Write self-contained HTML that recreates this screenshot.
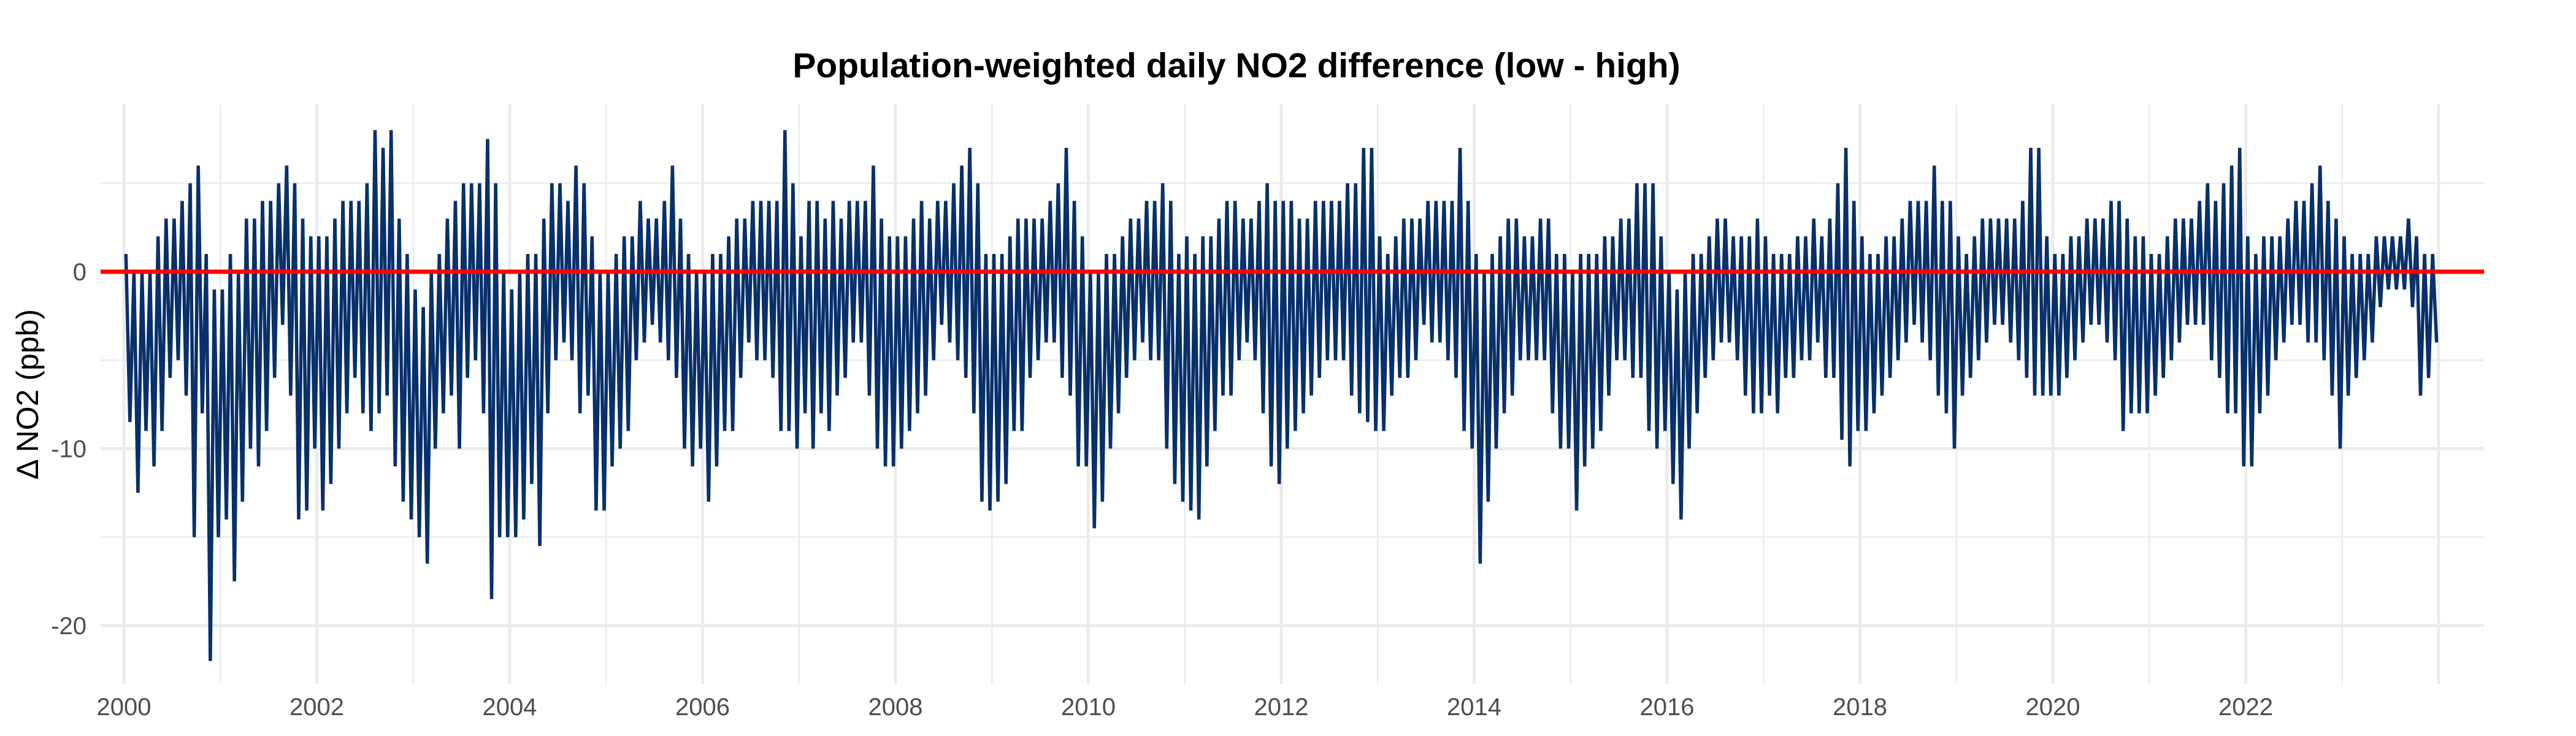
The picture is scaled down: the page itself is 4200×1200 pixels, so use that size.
<!DOCTYPE html>
<html><head><meta charset="utf-8"><style>
html,body{margin:0;padding:0;background:#fff;}
svg{display:block;font-family:"Liberation Sans",Arial,sans-serif;}
</style></head><body>
<svg id="chart" width="4200" height="1200" viewBox="0 0 4200 1200" xmlns="http://www.w3.org/2000/svg">
<rect width="4200" height="1200" fill="#fff"/>
<g id="grid"></g>
<g id="series"></g>
<g id="axes"></g>
<text x="2016" y="126" text-anchor="middle" font-size="57" font-weight="bold" fill="#000">Population-weighted daily NO2 difference (low - high)</text>
<text transform="translate(62,643) rotate(-90)" text-anchor="middle" font-size="50" fill="#000">Δ NO2 (ppb)</text>
</svg>
<script>
const startYear = 2000;
const xTickLabels = ["2000","2002","2004","2006","2008","2010","2012","2014","2016","2018","2020","2022"];
const yTickValues = [0, -10, -20];
const monthlyHigh = [
1,0,0,0,2,3,3,4,5,6,1,-1,
-1,1,0,3,3,4,4,5,6,5,3,2,
2,2,3,4,4,4,5,8,7,8,3,1,
-1,-2,0,1,3,4,5,5,5,7.5,5,0,
-1,0,1,1,3,5,5,4,6,5,2,0,
0,1,2,2,4,3,3,4,6,3,1,0,
0,1,1,2,3,3,4,4,4,4,8,5,
2,4,4,3,4,3,4,4,4,6,3,2,
2,2,3,4,3,4,4,5,6,7,5,1,
1,1,2,3,3,3,3,4,5,7,4,2,
0,0,1,1,2,3,3,4,4,5,4,1,
2,1,2,2,3,4,4,3,3,4,5,4,
4,4,3,3,4,4,4,4,5,5,7,7,
2,1,2,3,3,3,4,4,4,4,7,4,
1,0,1,2,3,3,2,2,3,3,1,1,
0,1,1,1,2,2,3,3,5,5,5,2,
0,-1,0,1,1,2,3,3,2,2,2,3,
2,1,1,1,2,2,3,2,3,5,7,4,
2,1,1,2,2,3,4,4,4,6,4,4,
2,1,2,3,3,3,3,3,4,7,7,2,
1,1,2,2,3,3,3,4,4,3,2,2,
1,1,2,3,3,3,4,5,4,5,6,7,
2,1,2,2,2,3,4,4,5,6,4,3,
2,1,1,1,2,2,2,2,3,2,1,1
];
const monthlyLow = [
-8.5,-12.5,-9,-11,-9,-6,-5,-7,-15,-8,-22,-15,
-14,-17.5,-13,-10,-11,-9,-6,-3,-7,-14,-13.5,-10,
-13.5,-12,-10,-8,-6,-8,-9,-8,-7,-11,-13,-14,
-15,-16.5,-10,-8,-7,-10,-6,-5,-8,-18.5,-15,-15,
-15,-14,-12,-15.5,-8,-5,-4,-5,-8,-7,-13.5,-13.5,
-11,-10,-9,-5,-4,-3,-4,-5,-6,-10,-11,-10,
-13,-11,-9,-9,-6,-4,-5,-5,-6,-9,-9,-10,
-8,-10,-8,-9,-7,-6,-4,-4,-7,-10,-11,-11,
-10,-9,-8,-7,-5,-3,-4,-5,-6,-8,-13,-13.5,
-13,-12,-9,-9,-6,-5,-4,-4,-6,-7,-11,-11,
-14.5,-13,-10,-8,-6,-5,-4,-5,-5,-10,-12,-13,
-13.5,-14,-11,-9,-7,-7,-5,-4,-5,-8,-11,-12,
-10,-9,-8,-7,-6,-5,-5,-5,-7,-8,-8.5,-9,
-9,-7,-6,-6,-5,-3,-4,-4,-5,-6,-9,-10,
-16.5,-13,-10,-8,-7,-5,-5,-5,-5,-8,-10,-10,
-13.5,-11,-10,-9,-7,-5,-5,-6,-6,-9,-10,-9,
-12,-14,-10,-8,-6,-5,-4,-4,-5,-7,-8,-8,
-7,-8,-6,-6,-5,-5,-4,-6,-6,-9.5,-11,-9,
-9,-8,-7,-6,-5,-4,-3,-4,-5,-7,-8,-10,
-7,-6,-5,-4,-3,-3,-4,-5,-6,-7,-7,-7,
-7,-6,-5,-4,-3,-3,-4,-5,-9,-8,-8,-8,
-7,-6,-5,-4,-3,-3,-3,-5,-6,-8,-8,-11,
-11,-8,-7,-5,-4,-3,-3,-4,-4,-5,-7,-10,
-7,-6,-5,-4,-2,-1,-1,-1,-2,-7,-6,-4
];

const NS = "http://www.w3.org/2000/svg";
const panel = {left:164, right:4050, top:170, bottom:1115};
function xScale(t){ return 202 + (t - startYear) * 157.25; }
function yScale(v){ return 443 - v * 28.85; }

const grid = document.getElementById('grid');
const axes = document.getElementById('axes');
const series = document.getElementById('series');

function line(parent, x1,y1,x2,y2, stroke, w){
  const l = document.createElementNS(NS,'line');
  l.setAttribute('x1',x1); l.setAttribute('y1',y1);
  l.setAttribute('x2',x2); l.setAttribute('y2',y2);
  l.setAttribute('stroke',stroke); l.setAttribute('stroke-width',w);
  parent.appendChild(l);
  return l;
}
[5,-5,-15].forEach(v=>{
  const l = line(grid, panel.left, yScale(v), panel.right, yScale(v), '#ebebeb', 2.5);
  
  
});
yTickValues.forEach(v=>{
  const l = line(grid, panel.left, yScale(v), panel.right, yScale(v), '#ebebeb', 5);
  
  
  const t = document.createElementNS(NS,'text');
  t.setAttribute('x', 141); t.setAttribute('y', yScale(v)+14);
  t.setAttribute('text-anchor','end'); t.setAttribute('font-size','40'); t.setAttribute('fill','#4d4d4d');
  t.textContent = String(v);
  
  
  axes.appendChild(t);
});
for (let y = startYear; y <= 2024; y++){
  const major = (y % 2 === 0);
  const l = line(grid, xScale(y), panel.top, xScale(y), panel.bottom, '#ebebeb', major ? 5 : 2.5);
  
  
}
xTickLabels.forEach(lbl=>{
  const t = document.createElementNS(NS,'text');
  t.setAttribute('x', xScale(+lbl)); t.setAttribute('y', 1166);
  t.setAttribute('text-anchor','middle'); t.setAttribute('font-size','40'); t.setAttribute('fill','#4d4d4d');
  t.textContent = lbl;
  
  
  axes.appendChild(t);
});
let pts = [];
for (let i = 0; i < monthlyHigh.length; i++){
  const t0 = startYear + i/12;
  pts.push(xScale(t0 + 0.25/12).toFixed(1) + ',' + yScale(monthlyHigh[i]).toFixed(1));
  pts.push(xScale(t0 + 0.75/12).toFixed(1) + ',' + yScale(monthlyLow[i]).toFixed(1));
}
const pl = document.createElementNS(NS,'polyline');
pl.setAttribute('points', pts.join(' '));
pl.setAttribute('fill','none'); pl.setAttribute('stroke','#08306b');
pl.setAttribute('stroke-width','5.5'); pl.setAttribute('stroke-linejoin','bevel');


series.appendChild(pl);
const z = line(series, panel.left, yScale(0), panel.right, yScale(0), '#ff0000', 7);


</script>
</body></html>
